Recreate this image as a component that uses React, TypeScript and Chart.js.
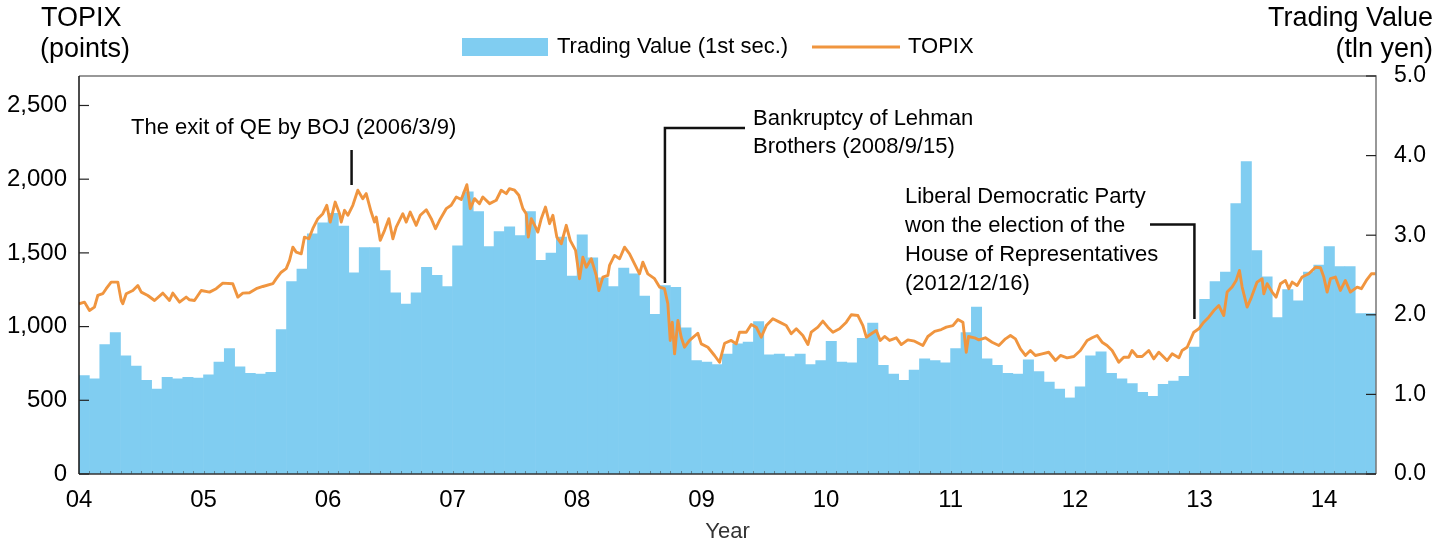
import { useEffect, useRef } from "react";
import { Chart, registerables } from "chart.js";

Chart.register(...registerables);

// ---------------- data ----------------
const yearLabels = ["04", "05", "06", "07", "08", "09", "10", "11", "12", "13", "14"];
const leftTicks = [0, 500, 1000, 1500, 2000, 2500];
const rightTicks = [0, 1, 2, 3, 4, 5];

// Monthly trading value (1st section), tln yen, Jan 2004 - May 2014
const tradingValue = [
  1.24, 1.2, 1.63, 1.78, 1.49, 1.36, 1.18, 1.07, 1.22, 1.2, 1.22, 1.21,
  1.25, 1.41, 1.58, 1.35, 1.27, 1.26, 1.28, 1.82, 2.42, 2.58, 3.02, 3.16,
  3.28, 3.12, 2.53, 2.85, 2.85, 2.56, 2.28, 2.14, 2.28, 2.6, 2.5, 2.36,
  2.87, 3.55, 3.3, 2.86, 3.05, 3.11, 3.0, 3.3, 2.69, 2.78, 2.98, 2.49,
  3.01, 2.72, 2.47, 2.36, 2.59, 2.52, 2.24, 2.01, 2.37, 2.35, 1.84, 1.43,
  1.41, 1.38, 1.51, 1.64, 1.66, 1.92, 1.5, 1.51, 1.48, 1.51, 1.38, 1.43,
  1.67, 1.41, 1.4, 1.71, 1.9, 1.37, 1.26, 1.18, 1.31, 1.45, 1.43, 1.4,
  1.58, 1.78, 2.1, 1.45, 1.37, 1.27, 1.26, 1.44, 1.29, 1.16, 1.07, 0.96,
  1.1, 1.49, 1.54, 1.27, 1.2, 1.14, 1.03, 0.98, 1.13, 1.17, 1.23, 1.6,
  2.2, 2.42, 2.54, 3.4, 3.93, 2.81, 2.48, 1.97, 2.32, 2.18, 2.54, 2.63,
  2.86, 2.61, 2.61, 2.02, 2.02,
];

// TOPIX: position in months since Jan 2004, and level in points
const topixMonth = [
  0, 0.53, 1.01, 1.49, 1.81, 2.29, 2.62, 3.1, 3.74, 4.07, 4.22, 4.55, 5.19, 5.67, 6.0, 6.63,
  7.28, 8.08, 8.72, 9.04, 9.69, 10.33, 10.65, 11.13, 11.78, 12.58, 13.22, 13.86, 14.82, 15.31,
  15.79, 16.43, 17.08, 17.72, 18.68, 19.01, 19.49, 19.97, 20.29, 20.61, 20.93, 21.42, 21.73,
  22.15, 22.53, 23.02, 23.5, 23.88, 24.21, 24.69, 25.11, 25.27, 25.59, 25.91, 26.39, 26.87,
  27.35, 27.68, 28.16, 28.48, 28.65, 29.03, 29.45, 29.86, 30.25, 30.57, 31.21, 31.54, 31.92,
  32.5, 32.89, 33.47, 33.95, 34.36, 34.75, 35.39, 35.87, 36.36, 36.84, 37.38, 37.71, 38.12,
  38.6, 38.92, 39.57, 40.21, 40.69, 41.18, 41.49, 41.98, 42.39, 42.78, 43.1, 43.3, 43.59, 44.0,
  44.22, 44.55, 44.96, 45.35, 45.67, 46.05, 46.48, 46.96, 47.34, 47.86, 48.24, 48.56, 48.89,
  49.37, 49.85, 50.1, 50.49, 50.97, 51.13, 51.61, 52.1, 52.58, 53.06, 53.54, 54.02, 54.34,
  54.82, 55.47, 55.95, 56.43, 56.75, 56.98, 57.18, 57.4, 57.72, 58.04, 58.36, 58.84, 59.64,
  59.97, 60.61, 61.25, 61.73, 62.22, 62.86, 63.34, 63.66, 64.31, 64.79, 65.27, 65.75, 66.24,
  66.87, 67.52, 68.16, 68.64, 69.13, 69.76, 70.25, 70.57, 71.21, 71.69, 72.17, 72.66, 73.3,
  73.95, 74.43, 75.07, 75.55, 75.88, 76.36, 76.84, 77.22, 77.64, 78.12, 78.77, 79.25, 79.88,
  80.53, 81.33, 81.81, 82.46, 83.1, 83.59, 84.22, 84.71, 85.19, 85.51, 85.73, 86.31, 86.72,
  87.35, 88.0, 88.65, 89.29, 89.77, 90.25, 90.73, 91.21, 91.69, 92.17, 92.82, 93.46, 94.11,
  94.59, 95.23, 95.88, 96.51, 97.16, 97.64, 98.12, 98.6, 99.08, 99.57, 100.21, 100.69, 101.17,
  101.49, 101.98, 102.46, 103.1, 103.58, 104.07, 104.39, 104.87, 105.35, 106.0, 106.31, 106.8,
  107.44, 107.92, 108.4, 108.88, 109.37, 109.85, 110.33, 110.65, 111.13, 111.52, 111.84, 112.1,
  112.58, 113.0, 113.54, 114.02, 114.19, 114.51, 114.99, 115.37, 115.79, 116.27, 116.6, 116.92,
  117.4, 117.88, 118.52, 119.17, 119.65, 119.97, 120.29, 120.61, 121.09, 121.57, 122.05, 122.53,
  123.18, 123.59, 124.07, 124.55, 124.96,
];
const topixValue = [
  1155, 1166, 1109, 1132, 1211, 1223, 1257, 1302, 1302, 1177, 1155, 1223, 1245, 1279, 1234, 1211,
  1177, 1227, 1177, 1227, 1166, 1200, 1182, 1177, 1245, 1234, 1257, 1295, 1291, 1200,
  1227, 1230, 1257, 1272, 1291, 1325, 1369, 1393, 1449, 1539, 1505, 1494, 1607,
  1596, 1664, 1732, 1766, 1823, 1709, 1845, 1766, 1709, 1789, 1755, 1823, 1925,
  1868, 1902, 1777, 1709, 1743, 1585, 1653, 1732, 1596, 1675, 1766, 1709, 1777,
  1687, 1755, 1793, 1732, 1664, 1721, 1800, 1823, 1879, 1862, 1963, 1800, 1868,
  1834, 1879, 1834, 1857, 1925, 1902, 1936, 1925, 1891, 1800, 1766, 1607, 1732, 1675,
  1641, 1732, 1811, 1698, 1755, 1607, 1562, 1687, 1585, 1517, 1325, 1471, 1403,
  1460, 1347, 1245, 1336, 1347, 1415, 1483, 1460, 1539, 1494, 1426, 1358, 1437,
  1358, 1325, 1268, 1257, 1155, 906, 1030, 815, 1041, 928, 860, 906, 955,
  883, 860, 804, 758, 887, 906, 883, 962, 962, 1014, 996, 928, 1007,
  1053, 1030, 1007, 951, 985, 940, 878, 962, 996, 1037, 996, 962, 985,
  1030, 1080, 1075, 1007, 928, 951, 973, 906, 933, 906, 924, 878, 910,
  901, 872, 933, 967, 980, 996, 1007, 1048, 1030, 826, 933, 924, 910,
  924, 894, 872, 917, 940, 917, 849, 804, 838, 804, 815, 826, 770,
  804, 788, 797, 838, 906, 924, 940, 894, 872, 838, 758, 792, 792,
  838, 797, 797, 838, 781, 826, 804, 770, 815, 788, 838, 860,
  962, 985, 1030, 1064, 1109, 1143, 1075, 1234, 1268, 1313, 1381, 1268,
  1132, 1200, 1302, 1325, 1223, 1291, 1234, 1200, 1291, 1313, 1257, 1302,
  1279, 1336, 1358, 1403, 1399, 1336, 1234, 1325, 1336, 1245, 1313, 1234,
  1268, 1257, 1313, 1358, 1358,
];

// annotation texts and event months
const annoQE = ["The exit of QE by BOJ (2006/3/9)"];
const annoLehman = ["Bankruptcy of Lehman", "Brothers (2008/9/15)"];
const annoLDP = ["Liberal Democratic Party", "won the election of the", "House of Representatives", "(2012/12/16)"];
const eventMonths = { qe: 26.27, lehman: 56.47, ldp: 107.5 };

const BAR_COLOR = "#80CDF1";
const LINE_COLOR = "#F0953F";
const FONT = "'Liberation Sans', Arial, Helvetica, sans-serif";

const overlay = {
  id: "overlay",
  afterDraw(chart: any) {
    const { ctx, chartArea } = chart;
    const { left, right, top, bottom } = chartArea;
    const yL = chart.scales.yL;
    const yR = chart.scales.yR;
    const x = chart.scales.x;
    ctx.save();

    // frame
    ctx.lineWidth = 1.5;
    ctx.strokeStyle = "#777";
    ctx.beginPath();
    ctx.moveTo(left, top);
    ctx.lineTo(right, top);
    ctx.lineTo(right, bottom);
    ctx.stroke();
    ctx.strokeStyle = "#333";
    ctx.beginPath();
    ctx.moveTo(left, bottom);
    ctx.lineTo(right, bottom);
    ctx.stroke();
    ctx.strokeStyle = "#111";
    ctx.beginPath();
    ctx.moveTo(left, top);
    ctx.lineTo(left, bottom);
    ctx.stroke();

    // inward tick marks
    ctx.lineWidth = 1.2;
    ctx.strokeStyle = "#222";
    leftTicks.forEach((v) => {
      const py = yL.getPixelForValue(v);
      ctx.beginPath();
      ctx.moveTo(left, py);
      ctx.lineTo(left + 10, py);
      ctx.stroke();
    });
    rightTicks.forEach((v) => {
      const py = yR.getPixelForValue(v);
      ctx.beginPath();
      ctx.moveTo(right - 10, py);
      ctx.lineTo(right, py);
      ctx.stroke();
    });
    ctx.strokeStyle = "rgba(60,60,60,0.5)";
    ctx.lineWidth = 1;
    for (let m = 1; m < tradingValue.length; m++) {
      const px = Math.round(x.getPixelForValue(m)) + 0.5;
      ctx.beginPath();
      ctx.moveTo(px, bottom);
      ctx.lineTo(px, bottom - 3);
      ctx.stroke();
    }

    // titles
    ctx.fillStyle = "#000";
    ctx.textBaseline = "middle";
    ctx.font = `27px ${FONT}`;
    ctx.textAlign = "left";
    ctx.fillText("TOPIX", 41, 19);
    ctx.fillText("(points)", 40, 50);
    ctx.textAlign = "right";
    ctx.fillText("Trading Value", 1433, 19);
    ctx.fillText("(tln yen)", 1433, 50);

    // legend
    ctx.font = `22px ${FONT}`;
    ctx.textAlign = "left";
    ctx.fillStyle = BAR_COLOR;
    ctx.fillRect(462, 38, 86, 18);
    ctx.fillStyle = "#000";
    ctx.fillText("Trading Value (1st sec.)", 557, 47);
    ctx.strokeStyle = LINE_COLOR;
    ctx.lineWidth = 3;
    ctx.beginPath();
    ctx.moveTo(812, 47);
    ctx.lineTo(900, 47);
    ctx.stroke();
    ctx.fillText("TOPIX", 908, 47);

    // x axis title
    ctx.fillStyle = "#333";
    ctx.textAlign = "center";
    ctx.fillText("Year", (left + right) / 2, 532);

    // annotations
    ctx.fillStyle = "#000";
    ctx.textAlign = "left";
    ctx.font = `22px ${FONT}`;
    annoQE.forEach((t, i) => ctx.fillText(t, 131, 128 + i * 29));
    annoLehman.forEach((t, i) => ctx.fillText(t, 753, 119 + i * 28));
    annoLDP.forEach((t, i) => ctx.fillText(t, 905, 197 + i * 29));

    ctx.strokeStyle = "#111";
    ctx.lineWidth = 2.5;
    const xq = x.getPixelForValue(eventMonths.qe);
    ctx.beginPath();
    ctx.moveTo(xq, 150);
    ctx.lineTo(xq, 185);
    ctx.stroke();
    const xl = x.getPixelForValue(eventMonths.lehman);
    ctx.beginPath();
    ctx.moveTo(745, 128);
    ctx.lineTo(xl, 128);
    ctx.lineTo(xl, 283);
    ctx.stroke();
    const xd = x.getPixelForValue(eventMonths.ldp);
    ctx.beginPath();
    ctx.moveTo(1150, 224.5);
    ctx.lineTo(xd, 224.5);
    ctx.lineTo(xd, 319);
    ctx.stroke();

    ctx.restore();
  },
};

export default function App() {
  const canvasRef = useRef<HTMLCanvasElement | null>(null);

  useEffect(() => {
    document.body.style.margin = "0";
    const canvas = canvasRef.current;
    if (!canvas) return;
    Chart.defaults.font.family = FONT;
    const chart = new Chart(canvas, {
      type: "bar",
      data: {
        datasets: [
          {
            type: "line",
            label: "TOPIX",
            data: topixMonth.map((m, i) => ({ x: m, y: topixValue[i] })),
            yAxisID: "yL",
            xAxisID: "x",
            borderColor: LINE_COLOR,
            borderWidth: 2.9,
            borderJoinStyle: "round",
            pointRadius: 0,
            tension: 0,
            order: 0,
          } as any,
          {
            type: "bar",
            label: "Trading Value (1st sec.)",
            data: tradingValue.map((v, i) => ({ x: i + 0.5, y: v })),
            yAxisID: "yR",
            xAxisID: "x",
            backgroundColor: BAR_COLOR,
            borderWidth: 0,
            barPercentage: 1.06,
            categoryPercentage: 1,
            order: 1,
          } as any,
        ],
      },
      options: {
        responsive: false,
        animation: false,
        devicePixelRatio: 1,
        layout: { padding: { top: 76, left: 0, right: 0, bottom: 0 } },
        plugins: { legend: { display: false }, tooltip: { enabled: false } },
        scales: {
          x: {
            type: "linear",
            offset: false,
            min: 0,
            max: tradingValue.length,
            grid: { display: false, drawTicks: false },
            border: { display: false },
            afterBuildTicks: (s: any) => {
              s.ticks = yearLabels.map((_, i) => ({ value: i * 12 }));
            },
            afterFit: (s: any) => {
              s.height = 70;
            },
            ticks: {
              autoSkip: false,
              maxRotation: 0,
              padding: 12,
              color: "#000",
              font: { size: 24 },
              callback: (v: any) => yearLabels[Math.round(Number(v) / 12)] ?? "",
            },
          },
          yL: {
            type: "linear",
            position: "left",
            min: 0,
            max: 2700,
            grid: { display: false, drawTicks: false },
            border: { display: false },
            afterBuildTicks: (s: any) => {
              s.ticks = leftTicks.map((v) => ({ value: v }));
            },
            afterFit: (s: any) => {
              s.width = 79;
            },
            ticks: {
              padding: 12,
              color: "#000",
              font: { size: 24 },
              callback: (v: any) => Number(v).toLocaleString("en-US"),
            },
          },
          yR: {
            type: "linear",
            position: "right",
            min: 0,
            max: 5,
            grid: { display: false, drawTicks: false },
            border: { display: false },
            afterBuildTicks: (s: any) => {
              s.ticks = rightTicks.map((v) => ({ value: v }));
            },
            afterFit: (s: any) => {
              s.width = 75;
            },
            ticks: {
              padding: 18,
              color: "#000",
              font: { size: 23 },
              callback: (v: any) => Number(v).toFixed(1),
            },
          },
        },
      },
      plugins: [overlay],
    });
    return () => chart.destroy();
  }, []);

  return (
    <div style={{ width: 1451, height: 544 }}>
      <canvas ref={canvasRef} width={1451} height={544} style={{ display: "block" }} />
    </div>
  );
}
